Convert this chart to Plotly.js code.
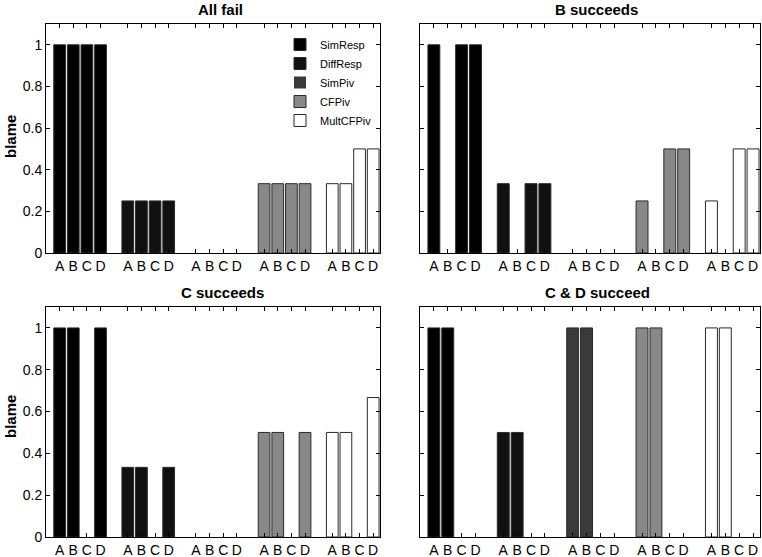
<!DOCTYPE html>
<html>
<head>
<meta charset="utf-8">
<script src="https://cdn.plot.ly/plotly-3.0.1.min.js"></script>
<style>
  html, body { margin: 0; padding: 0; background: #fff; }
  #chart { width: 762px; height: 557px; }
</style>
</head>
<body>
<div id="chart"></div>
<script>
const agents = ["A", "B", "C", "D"];
const measures = ["SimResp", "DiffResp", "SimPiv", "CFPiv", "MultCFPiv"];
const fills = ["#000000", "#111111", "#3a3a3a", "#888888", "#ffffff"];

const panelTitles = ["All fail", "B succeeds", "C succeeds", "C & D succeed"];

// blame[measure] = values for A, B, C, D
const allFail = {
    SimResp:   [1, 1, 1, 1],
    DiffResp:  [0.25, 0.25, 0.25, 0.25],
    SimPiv:    [0, 0, 0, 0],
    CFPiv:     [0.333, 0.333, 0.333, 0.333],
    MultCFPiv: [0.333, 0.333, 0.5, 0.5]
};
const bSucceeds = {
    SimResp:   [1, 0, 1, 1],
    DiffResp:  [0.333, 0, 0.333, 0.333],
    SimPiv:    [0, 0, 0, 0],
    CFPiv:     [0.25, 0, 0.5, 0.5],
    MultCFPiv: [0.25, 0, 0.5, 0.5]
};
const cSucceeds = {
    SimResp:   [1, 1, 0, 1],
    DiffResp:  [0.333, 0.333, 0, 0.333],
    SimPiv:    [0, 0, 0, 0],
    CFPiv:     [0.5, 0.5, 0, 0.5],
    MultCFPiv: [0.5, 0.5, 0, 0.667]
};
const cdSucceed = {
    SimResp:   [1, 1, 0, 0],
    DiffResp:  [0.5, 0.5, 0, 0],
    SimPiv:    [1, 1, 0, 0],
    CFPiv:     [1, 1, 0, 0],
    MultCFPiv: [1, 1, 0, 0]
};
const panels = [allFail, bSucceeds, cSucceeds, cdSucceed];

// x slot of agent i in measure group g
function slot(g, i) { return g * 5 + i + 1; }

const tickVals = [];
const tickText = [];
measures.forEach((m, g) => agents.forEach((a, i) => { tickVals.push(slot(g, i)); tickText.push(a); }));

const fam = "Liberation Sans, Arial, sans-serif";
const font = {family: fam, size: 14, color: "#000"};

let data = [];
panels.forEach((p, k) => {
    const ax = k === 0 ? "" : String(k + 1);
    measures.forEach((m, g) => {
        data.push({
            type: "bar",
            name: m,
            x: agents.map((a, i) => slot(g, i)),
            y: p[m],
            width: 0.86,
            // zero-height bars get no outline, as in the original
            marker: {color: fills[g],
                     line: {color: "#2a2a2a", width: p[m].map(v => v > 0 ? 1 : 0)}},
            xaxis: "x" + ax,
            yaxis: "y" + ax,
            showlegend: k === 0,
            legendgroup: m,
            hoverinfo: "y"
        });
    });
});

const xDom = [[46 / 762, 380 / 762], [420 / 762, 760 / 762]];
const yDom = [[(557 - 253) / 557, (557 - 24) / 557], [(557 - 537) / 557, (557 - 307) / 557]];

function xAxis(col, anchor) {
    return {domain: xDom[col], range: [0, 24.5], anchor: anchor,
            tickvals: tickVals, ticktext: tickText, ticks: "inside", ticklen: 4,
            tickcolor: "#000", showline: true, linecolor: "#000", linewidth: 1,
            mirror: "ticks", showgrid: false, zeroline: false, tickfont: font,
            fixedrange: true};
}
function yAxis(row, anchor, labels) {
    return {domain: yDom[row], range: [0, 1.1], anchor: anchor,
            tickvals: [0, 0.2, 0.4, 0.6, 0.8, 1], ticks: "inside", ticklen: 4,
            tickcolor: "#000", showline: true, linecolor: "#000", linewidth: 1,
            mirror: "ticks", showgrid: false, zeroline: false, tickfont: font,
            showticklabels: labels, fixedrange: true};
}

const titlePos = [[220, 10], [596, 10], [222, 292], [597, 292]];
const annotations = panelTitles.map((t, k) => ({
    text: "<b>" + t + "</b>", xref: "paper", yref: "paper",
    x: titlePos[k][0] / 762, y: 1 - titlePos[k][1] / 557,
    xanchor: "center", yanchor: "middle", showarrow: false,
    font: {family: fam, size: 15, color: "#000"}
}));
[137, 417].forEach(yc => annotations.push({
    text: "<b>blame</b>", xref: "paper", yref: "paper",
    x: 10 / 762, y: 1 - yc / 557, xanchor: "center", yanchor: "middle",
    textangle: -90, showarrow: false,
    font: {family: fam, size: 15, color: "#000"}
}));

const layout = {
    width: 762, height: 557,
    margin: {l: 0, r: 0, t: 0, b: 0},
    paper_bgcolor: "#fff", plot_bgcolor: "#fff",
    barmode: "overlay",
    font: font,
    showlegend: true,
    legend: {x: 280 / 762, y: 1 - 30 / 557, xanchor: "left", yanchor: "top",
             bgcolor: "rgba(255,255,255,0)", borderwidth: 0,
             font: {family: fam, size: 11, color: "#000"},
             tracegroupgap: 0, itemwidth: 30},
    xaxis: xAxis(0, "y"), yaxis: yAxis(0, "x", true),
    xaxis2: xAxis(1, "y2"), yaxis2: yAxis(0, "x2", false),
    xaxis3: xAxis(0, "y3"), yaxis3: yAxis(1, "x3", true),
    xaxis4: xAxis(1, "y4"), yaxis4: yAxis(1, "x4", false),
    annotations: annotations
};

Plotly.newPlot("chart", data, layout, {displayModeBar: false, staticPlot: true});
</script>
</body>
</html>
